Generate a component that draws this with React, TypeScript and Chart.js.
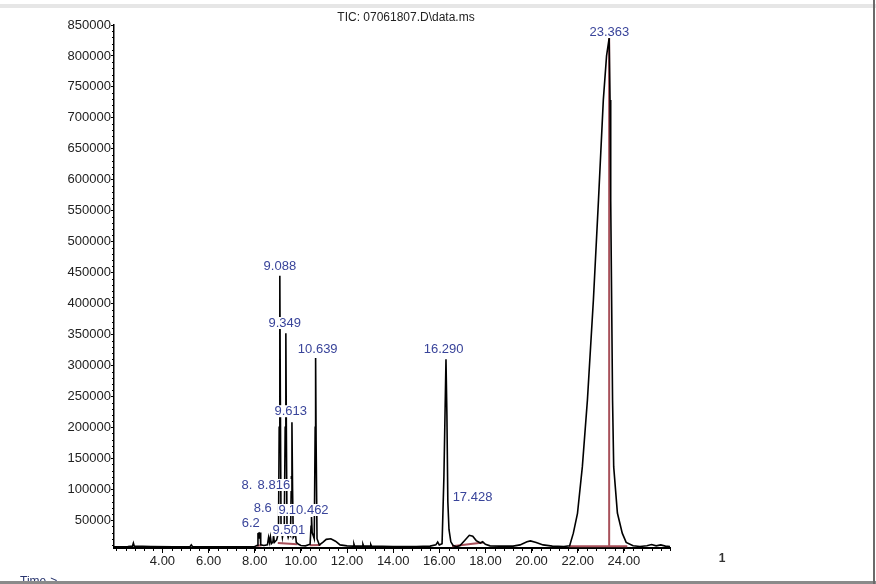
import React, { useEffect, useRef } from "react";
import { Chart, registerables } from "chart.js";

Chart.register(...registerables);

// Retention time (min) and abundance of the TIC trace
const rtMinutes = [
  1.9, 2.5, 2.7, 2.74, 2.78, 3.5, 4.5, 5.2, 5.25, 5.3, 6.5, 7.5, 8.0, 8.1, 8.14, 8.18, 8.2, 8.23, 8.26,
  8.4, 8.55, 8.6, 8.64, 8.68, 8.72, 8.79, 8.816, 8.85, 8.95, 9.03, 9.06, 9.088, 9.11, 9.14, 9.2, 9.28,
  9.32, 9.349, 9.37, 9.4, 9.45, 9.501, 9.55, 9.59, 9.613, 9.64, 9.67, 9.72, 9.76, 9.8, 9.9, 10.0, 10.2,
  10.4, 10.44, 10.462, 10.49, 10.58, 10.62, 10.639, 10.66, 10.7, 10.8, 10.95, 11.1, 11.3, 11.5, 11.7,
  12.0, 12.27, 12.3, 12.33, 12.66, 12.69, 12.72, 13.0, 13.03, 13.06, 14.0, 15.0, 15.6, 15.85, 15.93,
  16.0, 16.12, 16.2, 16.29, 16.33, 16.37, 16.42, 16.5, 16.6, 16.75, 16.9, 17.1, 17.3, 17.45, 17.6,
  17.78, 17.88, 18.0, 18.2, 18.6, 19.2, 19.5, 19.8, 19.95, 20.2, 20.5, 20.9, 21.4, 21.65, 21.81, 21.99,
  22.2, 22.42, 22.68, 22.9, 23.11, 23.25, 23.363, 23.4, 23.43, 23.47, 23.51, 23.56, 23.72, 23.93, 24.1,
  24.4, 24.7, 25.0, 25.2, 25.4, 25.6, 25.8, 26.0,
];
const abundance = [
  7000, 7500, 8000, 13000, 8000, 7500, 7000, 7500, 10000, 7500, 7000, 7000, 7500, 9000, 28000, 29000,
  20000, 30000, 10000, 9000, 10000, 22000, 14000, 23000, 12000, 15000, 26000, 14000, 18000, 30000,
  200000, 445000, 250000, 40000, 22000, 40000, 200000, 352000, 200000, 30000, 22000, 28000, 25000,
  120000, 208000, 100000, 22000, 25000, 30000, 14000, 11000, 9000, 8500, 11000, 40000, 55000, 30000,
  20000, 200000, 312000, 180000, 20000, 10000, 14000, 19000, 20000, 16000, 10000, 8500, 8000, 11500,
  8000, 8000, 11000, 8000, 8000, 10500, 8000, 7500, 7500, 8000, 10000, 14500, 10000, 12000, 120000,
  310000, 220000, 80000, 35000, 15000, 9000, 7000, 9000, 17000, 25500, 24000, 17000, 13000, 15000,
  11000, 8500, 8000, 8000, 10000, 15000, 16500, 14000, 10000, 8000, 7500, 8500, 29000, 61000, 136000,
  244000, 406000, 567000, 729000, 800000, 829000, 729000, 567000, 406000, 244000, 136000, 61500,
  29000, 14000, 8500, 7500, 8500, 10500, 8500, 10000, 8000, 7500,
];

// Integration baselines / peak markers (null breaks the line)
const integRt = [8.08, 8.3, null, 9.0, 9.85, null, 10.38, 10.85, null, 16.55, 17.9, null, 21.62, 24.15, null, 23.363, 23.363];
const integAbund = [8500, 9500, null, 13000, 11000, null, 9500, 10000, null, 8000, 14000, null, 8000, 8000, null, 8000, 829000];

// Peak labels
const peakLabels = ["9.088", "9.349", "10.639", "9.613", "16.290", "23.363", "17.428", "8.", "8.816", "8.6", "6.2", "9.", "10.462", "9.501"];
const labelRt = [9.09, 9.3, 10.73, 9.56, 16.19, 23.37, 17.44, 7.66, 8.83, 8.35, 7.83, 9.26, 10.34, 9.48];
const labelAbund = [460600, 368500, 326500, 226000, 326500, 838600, 87400, 106800, 106800, 69600, 45400, 66400, 66400, 34000];

const xTickValues = [4, 6, 8, 10, 12, 14, 16, 18, 20, 22, 24];
const yTickValues = [50000, 100000, 150000, 200000, 250000, 300000, 350000, 400000, 450000, 500000, 550000, 600000, 650000, 700000, 750000, 800000, 850000];

const TITLE = "TIC: 07061807.D\\data.ms";
const FONT = "'Liberation Sans', Arial, sans-serif";

const decor = {
  id: "decor",
  beforeDraw(chart: any) {
    const { ctx, width, height } = chart;
    ctx.save();
    ctx.fillStyle = "#ffffff";
    ctx.fillRect(0, 0, width, height);
    ctx.restore();
  },
  afterDatasetsDraw(chart: any) {
    const { ctx } = chart;
    const xs = chart.scales.x;
    const ys = chart.scales.y;
    ctx.save();
    ctx.font = `13px ${FONT}`;
    ctx.textAlign = "center";
    ctx.textBaseline = "middle";
    peakLabels.forEach((txt, i) => {
      const x = xs.getPixelForValue(labelRt[i]);
      const y = ys.getPixelForValue(labelAbund[i]);
      const w = ctx.measureText(txt).width;
      ctx.fillStyle = "#ffffff";
      ctx.fillRect(x - w / 2 - 1, y - 6, w + 2, 12);
    });
    peakLabels.forEach((txt, i) => {
      const x = xs.getPixelForValue(labelRt[i]);
      const y = ys.getPixelForValue(labelAbund[i]);
      ctx.fillStyle = "#39449a";
      ctx.fillText(txt, x, y);
    });
    ctx.restore();
  },
  afterDraw(chart: any) {
    const { ctx, width, height, chartArea } = chart;
    const xs = chart.scales.x;
    const ys = chart.scales.y;
    ctx.save();
    // minor ticks
    ctx.strokeStyle = "#000";
    ctx.lineWidth = 1;
    ctx.beginPath();
    for (let v = 10000; v < 850000; v += 10000) {
      if (v % 50000 === 0) continue;
      const y = Math.round(ys.getPixelForValue(v)) + 0.5;
      ctx.moveTo(chartArea.left - 2, y);
      ctx.lineTo(chartArea.left, y);
    }
    for (let k = 0; k * 0.4 + 2.0 <= 26.0; k++) {
      const v = 2.0 + k * 0.4;
      const x = Math.round(xs.getPixelForValue(v)) + 0.5;
      ctx.moveTo(x, chartArea.bottom);
      ctx.lineTo(x, chartArea.bottom + 3);
    }
    ctx.stroke();
    // title
    ctx.fillStyle = "#222";
    ctx.font = `12px ${FONT}`;
    ctx.textAlign = "center";
    ctx.textBaseline = "middle";
    ctx.fillText(TITLE, 406, 18);
    ctx.font = `bold 12px ${FONT}`;
    ctx.fillStyle = "#333";
    ctx.fillText("1", 722, 559);
    ctx.font = `12px ${FONT}`;
    ctx.fillStyle = "#2a366f";
    ctx.textAlign = "left";
    ctx.textBaseline = "top";
    ctx.fillText("Time->", 20, 576);
    // frame
    ctx.fillStyle = "#e6e6e6";
    ctx.fillRect(0, 4, width, 4);
    ctx.fillStyle = "#8a8a8a";
    ctx.fillRect(0, height - 3, width, 3);
    ctx.fillStyle = "#6a6a6a";
    ctx.fillRect(width - 3, 0, 2, height);
    ctx.restore();
  },
};

export default function App() {
  const ref = useRef<HTMLCanvasElement | null>(null);
  useEffect(() => {
    if (!ref.current) return;
    const trace = rtMinutes.map((t, i) => ({ x: t, y: abundance[i] }));
    const integ = integRt.map((t, i) => ({ x: t as any, y: integAbund[i] as any }));
    const chart = new Chart(ref.current, {
      type: "line",
      data: {
        datasets: [
          {
            data: integ,
            borderColor: "#a8505a",
            borderWidth: 2,
            pointRadius: 0,
            tension: 0,
            spanGaps: false,
            order: 2,
          },
          {
            data: trace,
            borderColor: "#000000",
            borderWidth: 1.6,
            pointRadius: 0,
            tension: 0,
            order: 1,
          },
        ],
      },
      options: {
        animation: false,
        responsive: false,
        devicePixelRatio: 1,
        events: [],
        layout: { padding: { left: 0, right: 206, top: 25, bottom: 0 } },
        plugins: { legend: { display: false }, tooltip: { enabled: false }, title: { display: false } },
        scales: {
          x: {
            type: "linear",
            min: 1.9,
            max: 26.0,
            afterBuildTicks: (s: any) => {
              s.ticks = xTickValues.map((v) => ({ value: v }));
            },
            afterFit: (s: any) => {
              s.height = 36;
            },
            ticks: {
              callback: (v: any) => Number(v).toFixed(2),
              font: { family: FONT, size: 13 },
              color: "#222",
              maxRotation: 0,
              autoSkip: false,
              padding: 1,
            },
            grid: { drawOnChartArea: false, drawTicks: true, tickLength: 5, tickColor: "#000", tickWidth: 1 },
            border: { display: true, color: "#000", width: 2 },
          },
          y: {
            type: "linear",
            min: 5000,
            max: 850000,
            afterBuildTicks: (s: any) => {
              s.ticks = yTickValues.map((v) => ({ value: v }));
            },
            afterFit: (s: any) => {
              s.width = 114;
            },
            ticks: {
              callback: (v: any) => String(v),
              font: { family: FONT, size: 13 },
              color: "#222",
              autoSkip: false,
              padding: 0,
            },
            grid: { drawOnChartArea: false, drawTicks: true, tickLength: 3, tickColor: "#000", tickWidth: 1 },
            border: { display: true, color: "#000", width: 1.5 },
          },
        },
      },
      plugins: [decor],
    });
    return () => chart.destroy();
  }, []);
  return (
    <div style={{ position: "absolute", left: 0, top: 0, width: 876, height: 584 }}>
      <canvas ref={ref} width={876} height={584} style={{ width: 876, height: 584, display: "block" }} />
    </div>
  );
}
